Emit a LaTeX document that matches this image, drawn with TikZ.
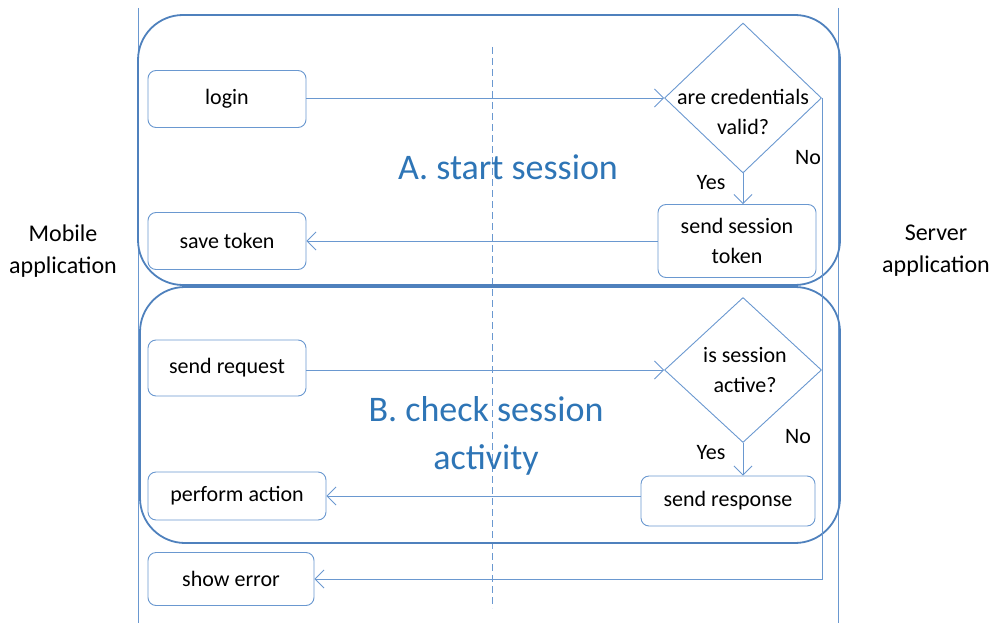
\documentclass[tikz,border=0pt]{standalone}
\usepackage{fontspec}
\setmainfont{Carlito}
\usetikzlibrary{arrows.meta,shapes.geometric}
\definecolor{ln}{HTML}{6A98D0}
\definecolor{fr}{HTML}{4F81BD}
\definecolor{ttl}{HTML}{2E75B6}
\tikzset{
  box/.style={draw=ln, line width=0.9pt, rounded corners=8pt, fill=white, font=\fontsize{22}{30}\selectfont, align=center, inner sep=0pt},
  dia/.style={draw=ln, line width=0.9pt, shape=diamond, minimum width=157pt, minimum height=150pt, inner sep=0pt},
  diatext/.style={font=\fontsize{22}{30}\selectfont, align=center, inner sep=0pt},
  frame/.style={draw=fr, line width=1.8pt, rounded corners=45pt},
  lane/.style={draw=ln, line width=0.9pt},
  conn/.style={draw=ln, line width=0.9pt, -{Straight Barb[length=9pt,width=18pt,line width=0.9pt]}},
  lbl/.style={font=\fontsize{22}{24}\selectfont, text=black},
  ttlstyle/.style={font=\fontsize{36}{48}\selectfont, text=ttl, align=center},
  side/.style={font=\fontsize{24}{32}\selectfont, align=center}
}
\begin{document}
\begin{tikzpicture}[x=1pt,y=-1pt]
\useasboundingbox (0,0) rectangle (992,623);
% swimlane lines
\draw[lane] (138,8) -- (138,623);
\draw[lane] (838,8) -- (838,623);
\draw[lane, dashed, dash pattern=on 7pt off 4pt] (492,47) -- (492,608);
% frames
\draw[frame] (138,15) rectangle (840,285);
\draw[frame] (140,287) rectangle (840,543);
% titles
\node[ttlstyle] (ta) at (508,167) {A. start session};
\node[ttlstyle] (tb) at (486,436) {B. check session\\activity};
\node[side] (mob) at (63,251) {Mobile\\application};
\node[side] (srv) at (936,251) {Server\\application};
% nodes
\node[box, minimum width=158pt, minimum height=57pt] (login) at (227,99) {login};
\node[box, minimum width=158pt, minimum height=57pt] (save) at (227,241) {save token};
\node[dia] (d1) at (743,98) {};
\node[diatext] (d1t) at (743,112) {are credentials\\valid?};
\node[box, minimum width=158pt, minimum height=73pt] (sst) at (737,241) {send session\\token};
\node[box, minimum width=158pt, minimum height=56pt] (sreq) at (227,368) {send request};
\node[box, minimum width=178pt, minimum height=48pt] (perf) at (237,496) {perform action};
\node[dia, minimum height=145pt] (d2) at (743,370) {};
\node[diatext] (d2t) at (745,370) {is session\\active?};
\node[box, minimum width=174pt, minimum height=50pt] (sresp) at (728,501) {send response};
\node[box, minimum width=166pt, minimum height=53pt] (err) at (231,579) {show error};
% connectors
\draw[conn] (login.east |- d1.west) -- (d1.west);
\draw[conn] (d1.south) -- (d1.south |- sst.north);
\draw[conn] (sst.west |- save.east) -- (save.east);
\draw[conn] (sreq.east |- d2.west) -- (d2.west);
\draw[conn] (d2.south) -- (d2.south |- sresp.north);
\draw[conn] (sresp.west |- perf.east) -- (perf.east);
\coordinate (nocorner) at (d1.east |- err.east);
\draw[conn] (d1.east) -- (nocorner) -- (err.east);
\draw[lane] (d2.east) -- (d2.east -| d1.east);
% labels
\node[lbl] (y1) at (711,183) {Yes};
\node[lbl] (n1) at (808,158) {No};
\node[lbl] (y2) at (711,453) {Yes};
\node[lbl] (n2) at (798,437) {No};
\end{tikzpicture}
\end{document}
